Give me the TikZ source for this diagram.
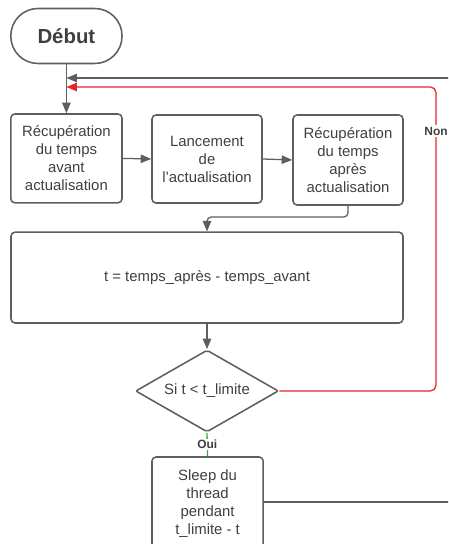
\documentclass[tikz,border=0pt]{standalone}
\usepackage{fontspec}
\setmainfont{Liberation Sans}
\usepackage{tikz}
\usetikzlibrary{positioning,shapes.geometric,arrows.meta}
\definecolor{box edge}{HTML}{5E5E5E}
\definecolor{box text}{HTML}{3F3F3F}
\definecolor{loop red}{HTML}{E5262B}
\definecolor{oui green}{HTML}{3DA33D}
\tikzset{block/.style={draw=box edge, line width=1.1pt, rounded corners=0.1cm, align=center,
        text=box text, font=\fontsize{10.6}{12.8}\selectfont, inner sep=0pt},
    terminal/.style={block, rounded corners=0.68cm, font=\fontsize{14.5}{16}\selectfont\bfseries},
    decision/.style={block, diamond, aspect=1.74, rounded corners=0.05cm},
    line/.style={draw=box edge, line width=0.9pt, -{Triangle[length=7.5pt,width=6pt]}},
    tag/.style={fill=white, text=box text, font=\fontsize{8.5}{10}\selectfont\bfseries, inner sep=1pt}}

\begin{document}
\begin{tikzpicture}
	\useasboundingbox (0,0) rectangle (11.2,13.6);
	\clip (0,0) rectangle (11.2,13.6);
	% noeuds
	\node[terminal, minimum width=2.78cm, minimum height=1.375cm] (debut) at (1.66,12.7) {Début};
	\node[block, minimum width=2.78cm, minimum height=2.22cm] (avant) at (1.66,9.64)
		{Récupération\\du temps\\avant\\actualisation};
	\node[block, minimum width=2.75cm, minimum height=2.2cm] (lancement) at (5.175,9.625)
		{Lancement\\de\\l'actualisation};
	\node[block, minimum width=2.75cm, minimum height=2.25cm] (apres) at (8.7,9.6)
		{Récupération\\du temps\\après\\actualisation};
	\node[block, minimum width=9.8cm, minimum height=2.27cm] (calcul) at (5.175,6.66)
		{t = temps\_après - temps\_avant};
	\node[decision, minimum width=3.575cm, minimum height=2.05cm] (test) at (5.175,3.825)
		{Si t < t\_limite};
	\node[block, minimum width=2.78cm, minimum height=2.35cm] (sleep) at (5.19,1.0)
		{Sleep du\\thread\\pendant\\t\_limite - t};
	% liaisons
	\coordinate (retour) at (11.4,11.65);
	\coordinate (coude) at (10.9,11.425);
	\coordinate (jonction) at (5.175,8.175);
	\coordinate (sortie) at (11.4,1.05);
	\draw[line] (debut.south) -- (avant.north);
	\draw[line] (retour) -- (debut.south |- retour);
	\draw[line, draw=loop red, rounded corners=4pt] (test.east) -| (coude) -- (debut.south |- coude);
	\draw[line] (avant.east) -- (lancement.west);
	\draw[line] (lancement.east) -- (apres.west);
	\draw[line, rounded corners=3pt] (apres.south) |- (jonction) -- (calcul.north);
	\draw[line] (calcul.south) -- (test.north);
	\draw[draw=oui green, line width=0.9pt] (test.south) -- node[tag] (oui) {Oui} (sleep.north);
	\draw[draw=box edge, line width=0.9pt] (sleep.east |- sortie) -- (sortie);
	\node[tag] (non) at (10.9,10.325) {Non};
\end{tikzpicture}
\end{document}
